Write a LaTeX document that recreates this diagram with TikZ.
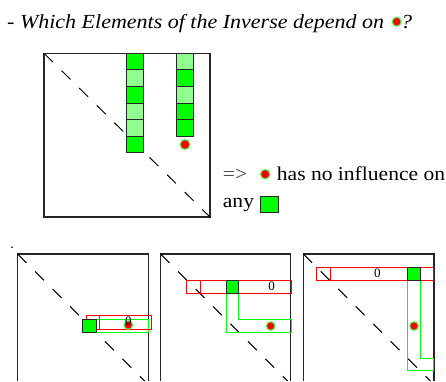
\documentclass[tikz,border=0pt]{standalone}
\usepackage{fontspec}
\setmainfont{Liberation Serif}
\newfontfamily\widefont[FakeStretch=1.1]{Liberation Serif}
\definecolor{brightgreen}{RGB}{0,255,0}
\definecolor{lightgreen}{RGB}{144,255,144}
\begin{document}
\begin{tikzpicture}[x=1pt,y=-1pt,
  frame/.style={draw=black!85,line width=1.2pt},
  diag/.style={draw=black,line width=1pt,dash pattern=on 12.5pt off 12.2pt},
  cellA/.style={draw=black!85,line width=0.9pt,fill=brightgreen},
  cellB/.style={draw=black!85,line width=0.9pt,fill=lightgreen},
  redbox/.style={draw=red,line width=1pt},
  greenbox/.style={draw=brightgreen,line width=1pt},
  zero/.style={font=\fontsize{13}{13}\selectfont,inner sep=0pt},
  txt/.style={font=\widefont\fontsize{19.6}{19.6}\selectfont,inner sep=0pt,anchor=base west}]
\useasboundingbox (0,0) rectangle (446,381);
\fill[white] (0,0) rectangle (446,381);
\newcommand{\rdot}[3]{\fill[brightgreen!70] (#1,#2) circle (#3+1.3);\fill[red] (#1,#2) circle (#3);}
% title
\node[anchor=base west,inner sep=0pt,font=\widefont\fontsize{20}{20}\selectfont\itshape] (title) at (7,28.3) {- Which Elements of the Inverse depend on};
\node[anchor=base west,inner sep=0pt,font=\widefont\fontsize{20}{20}\selectfont\itshape] (qm) at (401,28.3) {?};
\rdot{396.7}{21.7}{3.8}
% top matrix
\draw[frame] (44,53.3) rectangle (210,217);
\draw[diag] (44,53.3) -- (210,217);
\foreach \i/\s in {0/cellA,1/cellB,2/cellA,3/cellB,4/cellB,5/cellA}
  \draw[\s] (126.7,53.3+16.6*\i) rectangle (143.7,69.9+16.6*\i);
\foreach \i/\s in {0/cellB,1/cellA,2/cellB,3/cellA,4/cellA}
  \draw[\s] (176.7,53.3+16.6*\i) rectangle (193.3,69.9+16.6*\i);
\rdot{185}{144.5}{4.2}
% conclusion text
\node[txt,text=black!75] (arrow) at (222.7,180.7) {=>};
\rdot{265.2}{174.2}{4}
\node[txt] (t1) at (276.7,180.7) {has no influence on};
\node[txt] (t2) at (222.7,207) {any};
\draw[cellA] (260.7,196) rectangle (278.3,212.3);
% dot
\fill (12,247.3) circle (0.9);
% panel 1
\draw[frame] (17.7,381) -- (17.7,254) -- (148.3,254) -- (148.3,381);
\draw[diag] (17.7,254) -- (144.7,381);
\draw[greenbox] (96.3,319) rectangle (148.3,332.3);
\draw[redbox] (86,315.7) rectangle (99.3,329.3);
\draw[redbox] (99.3,315.7) rectangle (151.7,329.3);
\draw[cellA] (82.7,319) rectangle (96.3,332.3);
\rdot{128.3}{325}{3.6}
\node[zero] (z1) at (128.3,321.5) {0};
% panel 2
\draw[frame] (160.7,381) -- (160.7,254) -- (290.7,254) -- (290.7,381);
\draw[diag] (160.7,254) -- (287.7,381);
\draw[greenbox] (226,293.3) -- (226,332.3) -- (291,332.3) -- (291,319) -- (238.3,319) -- (238.3,293.3);
\draw[redbox] (186.7,280) rectangle (200,293.3);
\draw[redbox] (200,280) rectangle (291,293.3);
\draw[cellA] (226,280) rectangle (238.3,293.3);
\node[zero] (z2) at (271.7,286.7) {0};
\rdot{270.7}{326}{3.6}
% panel 3
\draw[frame] (303.3,381) -- (303.3,254) -- (434,254) -- (434,381);
\draw[diag] (303.3,254) -- (430.3,381);
\draw[greenbox] (407.7,280) -- (407.7,370.7) -- (433.3,370.7) -- (433.3,358.3) -- (420,358.3) -- (420,280);
\draw[redbox] (316.7,267.3) rectangle (330,280);
\draw[redbox] (330,267.3) rectangle (433.3,280);
\draw[cellA] (407.7,267.3) rectangle (420,280);
\node[zero] (z3) at (377.3,273.5) {0};
\rdot{414}{326}{3.6}
\end{tikzpicture}
\end{document}
